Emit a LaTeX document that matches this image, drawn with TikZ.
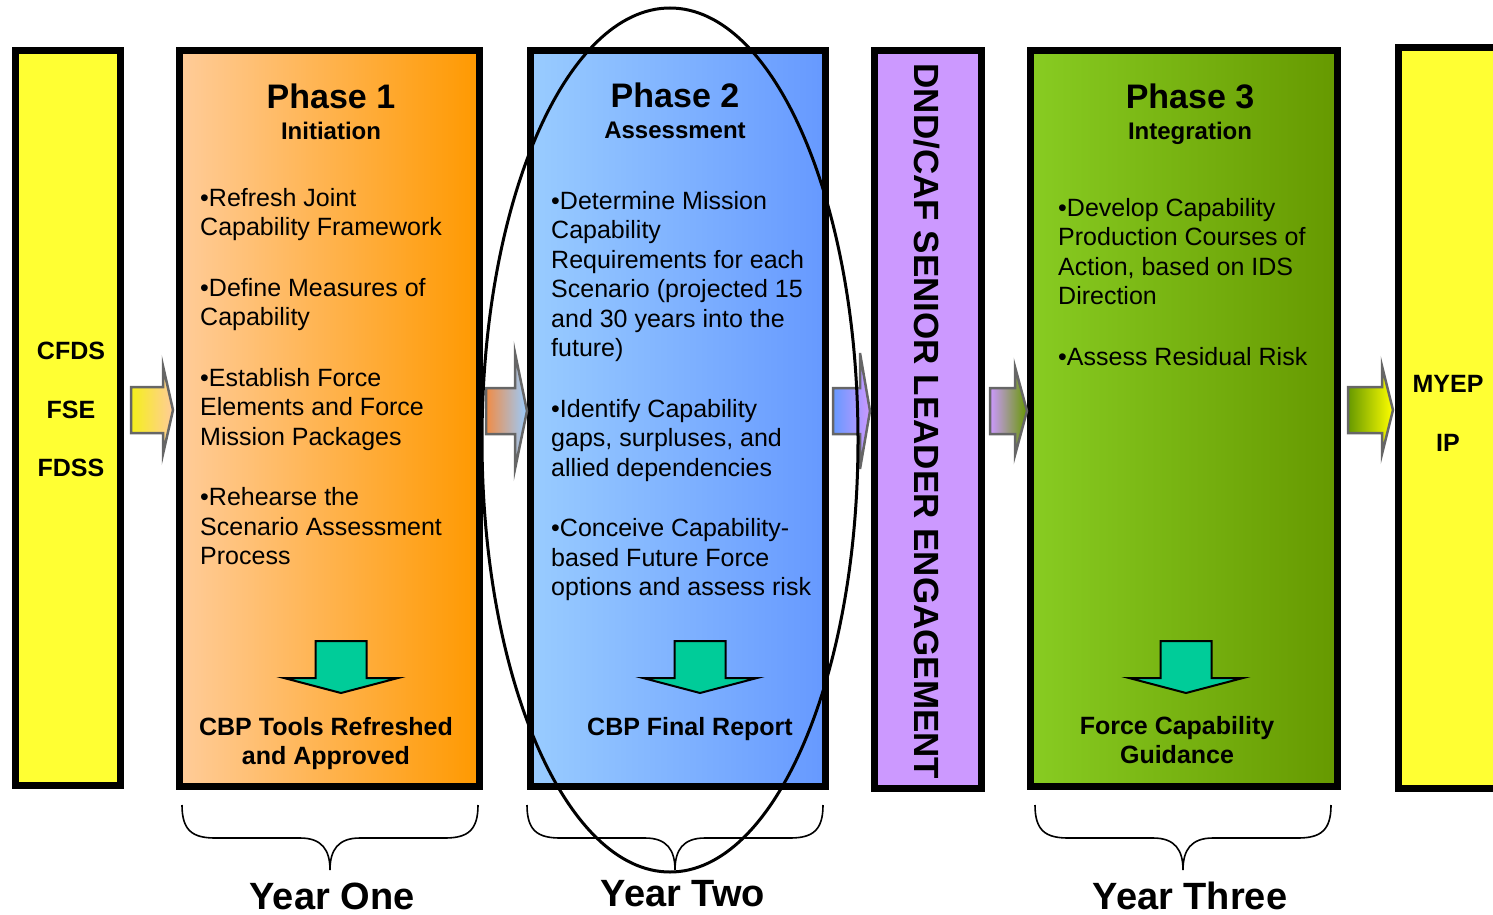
\documentclass[tikz,border=0pt]{standalone}
\usepackage{fontspec}
\setmainfont{Liberation Sans}
\definecolor{boxyellow}{RGB}{255,255,51}
\definecolor{peach}{RGB}{255,204,153}
\definecolor{deeporange}{RGB}{255,153,0}
\definecolor{skyblue}{RGB}{153,204,255}
\definecolor{midblue}{RGB}{102,153,255}
\definecolor{lilac}{RGB}{204,153,255}
\definecolor{limegreen}{RGB}{136,204,34}
\definecolor{olivegreen}{RGB}{102,153,0}
\definecolor{teal}{RGB}{0,204,153}
\definecolor{arrowgray}{RGB}{102,102,102}
\definecolor{arrowyellow}{RGB}{245,240,26}
\definecolor{arroworange}{RGB}{240,140,70}
\begin{document}
\begin{tikzpicture}[x=1pt,y=-1pt,
  phasebox/.style={draw=black,line width=7pt,inner sep=0pt,outer sep=0pt,anchor=north west},
  blockarrow/.style={draw=arrowgray,line width=2.5pt,line join=miter},
  downarrow/.style={draw=black,fill=teal,line width=2pt,line join=miter},
  title/.style={font=\fontsize{34}{36}\bfseries\selectfont,anchor=base},
  subtitle/.style={font=\fontsize{24}{26}\bfseries\selectfont,anchor=base},
  bullets/.style={font=\fontsize{25}{29.5}\selectfont,align=left,anchor=north west,inner sep=0pt},
  result/.style={font=\fontsize{25}{29}\bfseries\selectfont,align=center,anchor=north,inner sep=0pt},
  sidelabel/.style={font=\fontsize{25}{27}\bfseries\selectfont},
  yearlabel/.style={font=\fontsize{38}{40}\bfseries\selectfont}]
\useasboundingbox (0,0) rectangle (1493,915);

\node[phasebox,fill=boxyellow,minimum width=105pt,minimum height=735pt] (cfds) at (15.5,50.5) {};
\node[phasebox,left color=peach,right color=deeporange,minimum width=300pt,minimum height=736pt] (ph1) at (179.5,50.5) {};
\node[phasebox,left color=skyblue,right color=midblue,minimum width=295pt,minimum height=736pt] (ph2) at (530.5,50.5) {};
\node[phasebox,fill=lilac,minimum width=107pt,minimum height=738pt] (dnd) at (874.5,50.5) {};
\node[phasebox,left color=limegreen,right color=olivegreen,minimum width=307pt,minimum height=736pt] (ph3) at (1030.5,50.5) {};
\node[phasebox,fill=boxyellow,minimum width=120pt,minimum height=741pt] (myep) at (1398.5,47.5) {};

\foreach \xl/\xh/\xt/\yc/\hh/\lc/\rc in {131/163/173/410/44/arrowyellow/peach,
    486/515/527/411/58/arroworange/skyblue, 833/860/870/411/58/midblue/lilac,
    990/1015/1027/411/44/lilac/olivegreen, 1348/1382/1393/410/44/olivegreen/yellow}
  \draw[blockarrow,left color=\lc,right color=\rc] (\xl,\yc-23) -- (\xh,\yc-23) -- (\xh,\yc-\hh)
    -- (\xt,\yc) -- (\xh,\yc+\hh) -- (\xh,\yc+23) -- (\xl,\yc+23) -- cycle;

\node[sidelabel] (cfdsa) at (71,351) {CFDS};
\node[sidelabel] (cfdsb) at (71,410) {FSE};
\node[sidelabel] (cfdsc) at (71,468) {FDSS};
\node[sidelabel] (myepa) at (1448,384) {MYEP};
\node[sidelabel] (myepb) at (1448,443) {IP};

\node[title] (ph1t) at (331,109) {Phase 1};
\node[subtitle] (ph1s) at (331,139.5) {Initiation};
\node[bullets] (ph1b) at (200,188) {•Refresh Joint\\Capability Framework\\[31pt]
  •Define Measures of\\Capability\\[31pt]
  •Establish Force\\Elements and Force\\Mission Packages\\[31pt]
  •Rehearse the\\Scenario Assessment\\Process};
\node[result] (ph1r) at (326,717) {CBP Tools Refreshed\\and Approved};

\node[title] (ph2t) at (675,108) {Phase 2};
\node[subtitle] (ph2s) at (675,138.5) {Assessment};
\node[bullets] (ph2b) at (551,191) {•Determine Mission\\Capability\\Requirements for each\\Scenario (projected 15\\and 30 years into the\\future)\\[31pt]
  •Identify Capability\\gaps, surpluses, and\\allied dependencies\\[31pt]
  •Conceive Capability-\\based Future Force\\options and assess risk};
\node[result] (ph2r) at (690,717) {CBP Final Report};

\node[title] (ph3t) at (1190,109) {Phase 3};
\node[subtitle] (ph3s) at (1190,139.5) {Integration};
\node[bullets] (ph3b) at (1058,198) {•Develop Capability\\Production Courses of\\Action, based on IDS\\Direction\\[31pt]
  •Assess Residual Risk};
\node[result] (ph3r) at (1177,716) {Force Capability\\Guidance};

\node[font=\fontsize{35}{37}\bfseries\selectfont,rotate=-90] (dndt) at (927,421.5) {DND/CAF SENIOR LEADER ENGAGEMENT};

\foreach \cx in {341,700,1186}
  \draw[downarrow] (\cx-25.5,641) -- (\cx+25.5,641) -- (\cx+25.5,678) -- (\cx+57,678)
    -- (\cx,693) -- (\cx-57,678) -- (\cx-25.5,678) -- cycle;

\draw[line width=3pt] (670,440) ellipse [x radius=188pt,y radius=432pt];

\foreach \cx in {330,675,1183}
  \draw[line width=1.6pt] (\cx-148,805) .. controls (\cx-148,830) and (\cx-138,838) .. (\cx-115,838)
    -- (\cx-30,838) .. controls (\cx-8,838) and (\cx,850) .. (\cx,870)
    .. controls (\cx,850) and (\cx+8,838) .. (\cx+30,838)
    -- (\cx+115,838) .. controls (\cx+138,838) and (\cx+148,830) .. (\cx+148,805);

\node[yearlabel] (yone) at (332,896) {Year One};
\node[yearlabel] (ytwo) at (683,894) {Year Two};
\node[yearlabel] (ythree) at (1190,896) {Year Three};
\end{tikzpicture}
\end{document}
